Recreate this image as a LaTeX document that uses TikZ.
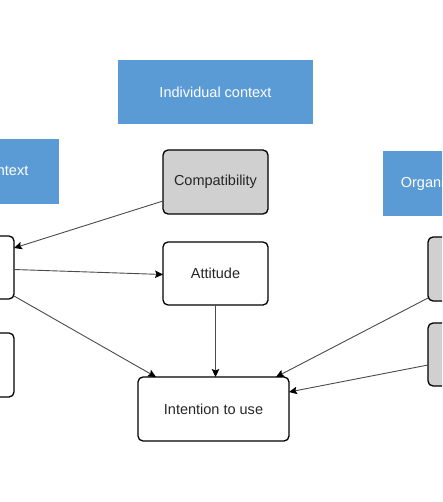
\documentclass[tikz,border=0pt]{standalone}
\usepackage{fontspec}
\setmainfont{Liberation Sans}
\usetikzlibrary{arrows.meta}
\definecolor{ctxblue}{RGB}{91,155,213}
\definecolor{boxgray}{RGB}{208,208,208}
\definecolor{linegray}{RGB}{75,75,75}
\begin{document}
\begin{tikzpicture}[x=1pt,y=-1pt,
  ctx/.style={fill=ctxblue,draw=none,text=white,inner sep=0pt,outer sep=0pt,
    minimum height=64pt,font=\fontsize{14.5}{17}\selectfont},
  var/.style={draw=black,line width=1.3pt,rounded corners=5pt,inner sep=0pt,outer sep=0pt,
    minimum width=105pt,minimum height=63pt,text=black!85,font=\fontsize{14.5}{17}\selectfont},
  grayvar/.style={var,fill=boxgray},
  whitevar/.style={var,fill=white},
  link/.style={draw=linegray,line width=0.9pt,-{Stealth[length=8pt,width=7.5pt,inset=1.5pt,color=black]}}]
\useasboundingbox (0,0) rectangle (442,502);
\clip (0,0) rectangle (442,502);
\fill[white] (0,0) rectangle (442,502);
% context headers
\node[ctx,minimum width=195pt] (indiv) at (215.5,92) {Individual context};
\node[ctx,minimum width=200pt,minimum height=65pt] (tech) at (-41,171.5) {Technological context};
\node[ctx,minimum width=180pt,minimum height=65pt] (org) at (473,183.5) {Organizational context};
% variables
\node[grayvar,minimum height=64pt] (comp) at (215.5,182) {Compatibility};
\node[whitevar] (att) at (215.5,273.5) {Attitude};
\node[whitevar,minimum width=151pt,minimum height=64pt] (int) at (213.5,409) {Intention to use};
\node[whitevar] (l1) at (-38.5,267.5) {};
\node[whitevar,minimum height=64pt] (l2) at (-38.5,365) {};
\node[grayvar,minimum height=64pt] (r1) at (480.5,269) {};
\node[grayvar] (r2) at (480.5,354.5) {};
% connectors
\draw[link] ([yshift=-19pt]comp.west) -- ([yshift=19.5pt]l1.east);
\draw[link] ([yshift=-2pt]l1.east) -- ([yshift=-1pt]att.west);
\draw[link] ([yshift=3pt]l1.south east) -- ([xshift=18pt]int.north west);
\draw[link] (att.south) -- (att.south |- int.north);
\draw[link] ([yshift=3pt]r1.south west) -- ([xshift=-13pt]int.north east);
\draw[link] ([yshift=-10.5pt]r2.west) -- ([yshift=17pt]int.east);
\end{tikzpicture}
\end{document}
